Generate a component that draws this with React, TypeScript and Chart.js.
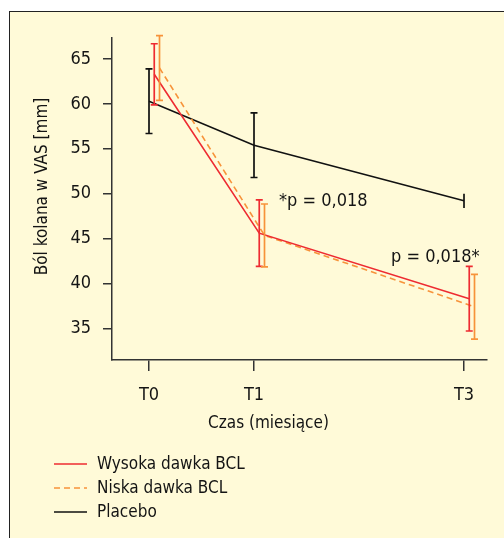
import { useEffect, useRef } from "react";
import { Chart, registerables } from "chart.js";

Chart.register(...registerables);

// ---------- data ----------
const timeLabels = ["T0", "T1", "T3"];
const months = [0, 1, 3];
const seriesNames = ["Wysoka dawka BCL", "Niska dawka BCL", "Placebo"];
const highDoseMean = [63.3, 45.6, 38.3];
const highDoseErr = [3.4, 3.7, 3.6];
const lowDoseMean = [64.0, 45.35, 37.4];
const lowDoseErr = [3.6, 3.5, 3.6];
const placeboMean = [60.3, 55.4, 49.2];
const placeboErr = [3.6, 3.6, 0.8];
const yTickValues = [35, 40, 45, 50, 55, 60, 65];
const xTitle = "Czas (miesiące)";
const yTitle = "Ból kolana w VAS [mm]";
const annotationTexts = ["*p = 0,018", "p = 0,018*"];
const annotationMonths = [1.238, 2.305];
const annotationValues = [48.63, 42.39];

// ---------- styles ----------
const FONT = '"DejaVu Sans Condensed", "Liberation Sans", sans-serif';
const TEXT = "#141414";
const AXIS = "#333333";
const RED = "#ee2b31";
const ORANGE = "#f7933a";
const BLACK = "#111111";
const CREAM = "#fffad8";
const X_MIN = -0.3524;
const X_MAX = 3.219;
const Y_MIN = 31.47;
const Y_MAX = 67.34;
const dodge = [0.05, 0.1, 0];

const extras = {
  id: "extras",
  afterDatasetsDraw(chart: any) {
    const { ctx, scales } = chart;
    const x = scales.x;
    const y = scales.y;
    chart.data.datasets.forEach((ds: any) => {
      const errs: number[] = ds.errors;
      if (!errs) return;
      ctx.save();
      ctx.strokeStyle = ds.borderColor;
      ctx.lineWidth = 1.7;
      ctx.setLineDash([]);
      ds.data.forEach((pt: any, j: number) => {
        const px = x.getPixelForValue(pt.x);
        const top = y.getPixelForValue(pt.y + errs[j]);
        const bot = y.getPixelForValue(pt.y - errs[j]);
        ctx.beginPath();
        ctx.moveTo(px, top);
        ctx.lineTo(px, bot);
        if (errs[j] >= 1) {
          ctx.moveTo(px - 3.5, top);
          ctx.lineTo(px + 3.5, top);
          ctx.moveTo(px - 3.5, bot);
          ctx.lineTo(px + 3.5, bot);
        }
        ctx.stroke();
      });
      ctx.restore();
    });
  },
  afterDraw(chart: any) {
    const { ctx, scales, chartArea } = chart;
    const x = scales.x;
    const y = scales.y;
    ctx.save();
    ctx.fillStyle = TEXT;
    // annotations
    ctx.font = `18px ${FONT}`;
    ctx.textAlign = "left";
    ctx.textBaseline = "alphabetic";
    annotationTexts.forEach((t, i) => {
      ctx.fillText(t, x.getPixelForValue(annotationMonths[i]), y.getPixelForValue(annotationValues[i]));
    });
    // axis titles
    ctx.font = `17px ${FONT}`;
    ctx.textAlign = "center";
    ctx.textBaseline = "middle";
    ctx.fillText(xTitle, chartArea.left + 156.5, chartArea.bottom + 64);
    ctx.save();
    ctx.translate(chartArea.left - 69, chartArea.top + 148.5);
    ctx.rotate(-Math.PI / 2);
    ctx.fillText(yTitle, 0, 0);
    ctx.restore();
    // legend
    ctx.textAlign = "left";
    chart.data.datasets.forEach((ds: any, i: number) => {
      const ly = 464 + i * 24;
      ctx.save();
      ctx.strokeStyle = ds.borderColor;
      ctx.lineWidth = 1.6;
      ctx.setLineDash(ds.borderDash || []);
      ctx.beginPath();
      ctx.moveTo(54, ly);
      ctx.lineTo(87, ly);
      ctx.stroke();
      ctx.restore();
      ctx.fillText(ds.label, 97, ly + 1);
    });
    ctx.restore();
  },
};

export default function App() {
  const ref = useRef<HTMLCanvasElement | null>(null);

  useEffect(() => {
    if (!ref.current) return;
    const mk = (vals: number[], k: number) => vals.map((v, j) => ({ x: months[j] + dodge[k], y: v }));
    const chart = new Chart(ref.current, {
      type: "line",
      data: {
        datasets: [
          {
            label: seriesNames[0],
            data: mk(highDoseMean, 0),
            borderColor: RED,
            borderWidth: 1.6,
            pointRadius: 0,
            tension: 0,
            errors: highDoseErr,
          } as any,
          {
            label: seriesNames[1],
            data: mk(lowDoseMean, 1),
            borderColor: ORANGE,
            borderWidth: 1.6,
            borderDash: [6, 4],
            pointRadius: 0,
            tension: 0,
            errors: lowDoseErr,
          } as any,
          {
            label: seriesNames[2],
            data: mk(placeboMean, 2),
            borderColor: BLACK,
            borderWidth: 1.5,
            pointRadius: 0,
            tension: 0,
            errors: placeboErr,
          } as any,
        ],
      },
      options: {
        animation: false,
        responsive: false,
        devicePixelRatio: 1,
        layout: { padding: { left: 0, top: 38, right: 17, bottom: 0 } },
        plugins: { legend: { display: false }, tooltip: { enabled: false } },
        scales: {
          x: {
            type: "linear",
            min: X_MIN,
            max: X_MAX,
            afterBuildTicks: (s: any) => {
              s.ticks = months.map((v) => ({ value: v }));
            },
            afterFit: (s: any) => {
              s.height = 178;
            },
            ticks: {
              callback: (v: any) => {
                const i = months.indexOf(Number(v));
                return i >= 0 ? timeLabels[i] : "";
              },
              font: { family: FONT, size: 18 },
              color: TEXT,
              padding: 14,
              maxRotation: 0,
              autoSkip: false,
            },
            grid: { drawOnChartArea: false, drawTicks: true, tickLength: 11, color: AXIS, lineWidth: 1.5 },
            border: { display: true, color: AXIS, width: 1.5 },
          },
          y: {
            type: "linear",
            min: Y_MIN,
            max: Y_MAX,
            afterBuildTicks: (s: any) => {
              s.ticks = yTickValues.map((v) => ({ value: v }));
            },
            afterFit: (s: any) => {
              s.width = 112;
            },
            ticks: {
              callback: (v: any) => String(v),
              font: { family: FONT, size: 18 },
              color: TEXT,
              padding: 12,
              autoSkip: false,
            },
            grid: { drawOnChartArea: false, drawTicks: true, tickLength: 9, color: AXIS, lineWidth: 1.5 },
            border: { display: true, color: AXIS, width: 1.5 },
          },
        },
      } as any,
      plugins: [extras],
    });
    return () => chart.destroy();
  }, []);

  return (
    <div style={{ position: "absolute", left: 0, top: 0, width: 504, height: 538, background: "#ffffff" }}>
      <div
        style={{
          position: "absolute",
          left: 9,
          top: 11,
          right: 0,
          bottom: 0,
          background: CREAM,
          borderTop: "1px solid #222",
          borderLeft: "1px solid #222",
        }}
      />
      <canvas
        ref={ref}
        width={504}
        height={538}
        style={{ position: "absolute", left: 0, top: 0, width: 504, height: 538 }}
      />
    </div>
  );
}
